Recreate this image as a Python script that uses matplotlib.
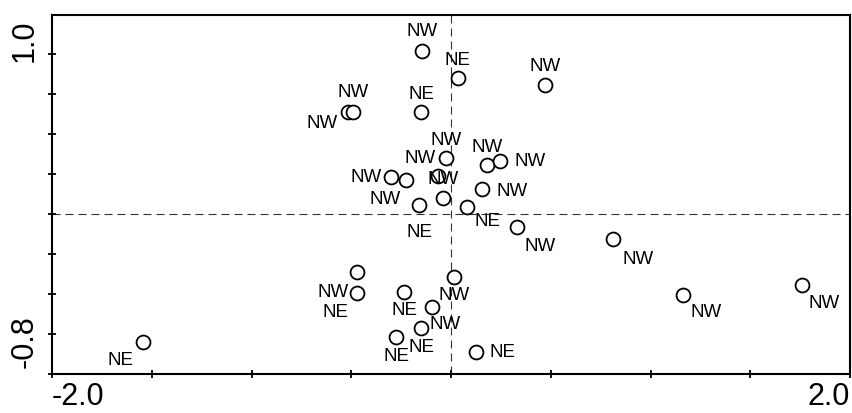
import numpy as np
import matplotlib
matplotlib.use("Agg")
import matplotlib.pyplot as plt
from matplotlib.transforms import ScaledTranslation

plt.rcParams["font.family"] = ["Liberation Sans", "DejaVu Sans"]

# site scores on the first two ordination axes, with the slope aspect of each site
axis1 = [-0.145, 0.035, 0.471, -0.516, -0.491, -0.150, -0.025, 0.180, 0.245, -0.300,
         -0.225, -0.065, -0.040, -0.160, 0.080, 0.155, 0.330, 0.811, -0.471, -0.471,
         -0.235, 0.015, -0.095, -0.150, -0.275, 0.125, -1.542, 1.161, 1.757]
axis2 = [1.019, 0.850, 0.806, 0.638, 0.638, 0.638, 0.350, 0.306, 0.331, 0.231,
         0.213, 0.238, 0.100, 0.056, 0.044, 0.156, -0.081, -0.156, -0.363, -0.494,
         -0.488, -0.394, -0.581, -0.713, -0.769, -0.863, -0.800, -0.506, -0.444]
aspect = ["NW", "NE", "NW", "NW", "NW", "NE", "NW", "NW", "NW", "NW",
          "NW", "NW", "NW", "NE", "NE", "NW", "NW", "NW", "NW", "NE",
          "NE", "NW", "NW", "NE", "NE", "NE", "NE", "NW", "NW"]

# where each label sits relative to its point (pixels, right / down)
label_offsets = [(0, -19), (0, -18), (0, -19), (-26, 12), (0, -19), (0, -17), (0, -18),
                 (0, -18), (30, 0), (-25, 0), (-21, 20), (-18, -17), (0, -19), (0, 27),
                 (21, 15), (30, 2), (23, 20), (25, 21), (-24, 20), (-22, 19), (0, 18),
                 (0, 18), (13, 18), (0, 19), (0, 19), (27, 0), (-23, 18), (24, 18), (23, 18)]

x_ticks = np.arange(-2.0, 2.01, 0.5)
y_ticks = np.arange(-1.0, 1.01, 0.25)
x_ticklabels = ["-2.0", "", "", "", "", "", "", "", "2.0"]
y_ticklabels = ["", "-0.8", "", "", "", "", "", "", "1.0"]

fig = plt.figure(figsize=(8.52, 4.13), dpi=100)
ax = fig.add_axes([52 / 852, 39 / 413, 798 / 852, 359 / 413])

ax.axhline(0, color="#333333", lw=0.8, ls=(0, (7.2, 4.5)), zorder=1)
ax.axvline(0, color="#333333", lw=0.8, ls=(0, (7.2, 4.5)), zorder=1)

ax.plot(axis1, axis2, "o", ms=10, mfc="white", mec="black", mew=1.3, zorder=3)

px = 72 / fig.dpi
for x, y, lab, (dx, dy) in zip(axis1, axis2, aspect, label_offsets):
    ax.annotate(lab, (x, y), xytext=(dx * px, -dy * px), textcoords="offset points",
                ha="center", va="center", fontsize=13.5, zorder=4)

ax.set_xlim(-2.0, 2.0)
ax.set_ylim(-1.0, 1.244)

ax.set_xticks(x_ticks)
ax.set_xticklabels(x_ticklabels)
ax.set_yticks(y_ticks)
ax.set_yticklabels(y_ticklabels)

ax.tick_params(direction="inout", length=6, width=1.3, labelsize=22)
ax.tick_params(axis="x", pad=3)
ax.tick_params(axis="y", pad=6, labelrotation=90)
for lab in ax.get_yticklabels():
    lab.set_va("center")

# end labels of the x axis sit inside the frame
xl = ax.get_xticklabels()
xl[0].set_ha("left")
xl[-1].set_ha("right")

# nudge the y labels along the axis
yl = ax.get_yticklabels()
yl[-1].set_transform(yl[-1].get_transform() + ScaledTranslation(0, 13 / 100, fig.dpi_scale_trans))
yl[1].set_transform(yl[1].get_transform() + ScaledTranslation(0, -8 / 100, fig.dpi_scale_trans))

for s in ax.spines.values():
    s.set_linewidth(1.5)

fig.savefig("out.png", dpi=100)
